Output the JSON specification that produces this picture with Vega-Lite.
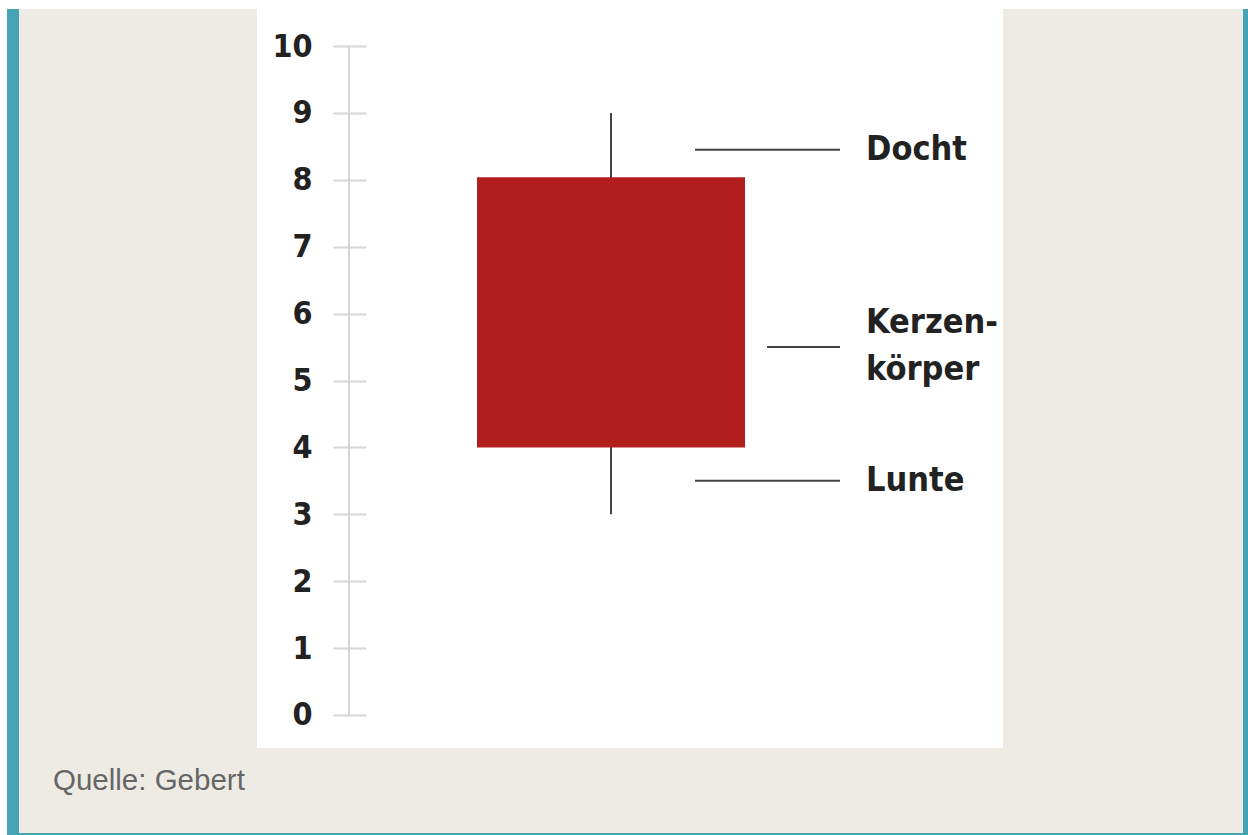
{
  "$schema": "https://vega.github.io/schema/vega-lite/v6.json",
  "width": 1248,
  "height": 835,
  "autosize": {"type": "none"},
  "padding": 0,
  "background": "#ffffff",
  "config": {"view": {"stroke": null}},
  "datasets": {
    "panels": [
      {"part": "border", "x": 7, "x2": 1248, "y": 10.553, "y2": -1.794},
      {"part": "frame", "x": 19, "x2": 1243, "y": 10.553, "y2": -1.764},
      {"part": "panel", "x": 257, "x2": 1003, "y": 10.688, "y2": -0.493}
    ],
    "axisline": [{"x": 349, "lo": 0, "hi": 10}],
    "candle": [{"x": 611, "left": 477, "right": 745, "open": 4, "close": 8.04, "low": 3, "high": 9}],
    "callouts": [
      {"label": "Docht", "lines": 1, "y": 8.45, "from": 695, "to": 840, "tx": 866},
      {"label": "Kerzen-\nkörper", "lines": 2, "y": 5.5, "from": 767, "to": 840, "tx": 866},
      {"label": "Lunte", "lines": 1, "y": 3.5, "from": 695, "to": 840, "tx": 866}
    ],
    "source": [{"label": "Quelle: Gebert", "x": 53, "y": -0.987}]
  },
  "layer": [
    {
      "data": {"name": "panels"},
      "mark": {"type": "rect"},
      "encoding": {
        "x": {"field": "x", "type": "quantitative", "scale": {"domain": [0, 1248], "nice": false, "zero": false}, "axis": null},
        "x2": {"field": "x2"},
        "y": {"field": "y", "type": "quantitative", "scale": {"domain": [-1.794, 10.688], "nice": false, "zero": false},
          "axis": {
            "values": [0, 1, 2, 3, 4, 5, 6, 7, 8, 9, 10],
            "format": "d",
            "offset": -366,
            "domain": false,
            "grid": false,
            "ticks": true,
            "tickSize": 33,
            "tickWidth": 2,
            "tickColor": "#d6d6d6",
            "labelFont": "DejaVu Sans Condensed, sans-serif",
            "labelFontWeight": "bold",
            "labelFontSize": 32,
            "labelColor": "#222222",
            "labelPadding": 21,
            "title": null,
            "zindex": 2
          }},
        "y2": {"field": "y2"},
        "color": {"field": "part", "type": "nominal", "scale": {"domain": ["border", "frame", "panel"], "range": ["#44a4b2", "#eeebe5", "#ffffff"]}, "legend": null}
      }
    },
    {
      "data": {"name": "axisline"},
      "mark": {"type": "rule", "color": "#d6d6d6", "strokeWidth": 2},
      "encoding": {
        "x": {"field": "x", "type": "quantitative"},
        "y": {"field": "lo", "type": "quantitative"},
        "y2": {"field": "hi"}
      }
    },
    {
      "data": {"name": "candle"},
      "mark": {"type": "rule", "color": "#444444", "strokeWidth": 2},
      "encoding": {
        "x": {"field": "x", "type": "quantitative"},
        "y": {"field": "low", "type": "quantitative"},
        "y2": {"field": "high"}
      }
    },
    {
      "data": {"name": "candle"},
      "mark": {"type": "rect", "color": "#b21d1e"},
      "encoding": {
        "x": {"field": "left", "type": "quantitative"},
        "x2": {"field": "right"},
        "y": {"field": "open", "type": "quantitative"},
        "y2": {"field": "close"}
      }
    },
    {
      "data": {"name": "callouts"},
      "mark": {"type": "rule", "color": "#444444", "strokeWidth": 2},
      "encoding": {
        "x": {"field": "from", "type": "quantitative"},
        "x2": {"field": "to"},
        "y": {"field": "y", "type": "quantitative"}
      }
    },
    {
      "data": {"name": "callouts"},
      "transform": [{"filter": "datum.lines == 1"}],
      "mark": {"type": "text", "align": "left", "baseline": "middle", "font": "DejaVu Sans Condensed, sans-serif", "fontWeight": "bold", "fontSize": 34, "color": "#222222"},
      "encoding": {
        "x": {"field": "tx", "type": "quantitative"},
        "y": {"field": "y", "type": "quantitative"},
        "text": {"field": "label", "type": "nominal"}
      }
    },
    {
      "data": {"name": "callouts"},
      "transform": [{"filter": "datum.lines == 2"}],
      "mark": {"type": "text", "align": "left", "baseline": "middle", "dy": -24, "lineBreak": "\n", "lineHeight": 47, "font": "DejaVu Sans Condensed, sans-serif", "fontWeight": "bold", "fontSize": 34, "color": "#222222"},
      "encoding": {
        "x": {"field": "tx", "type": "quantitative"},
        "y": {"field": "y", "type": "quantitative"},
        "text": {"field": "label", "type": "nominal"}
      }
    },
    {
      "data": {"name": "source"},
      "mark": {"type": "text", "align": "left", "baseline": "middle", "font": "Liberation Sans, Arial, sans-serif", "fontSize": 29.5, "color": "#666666"},
      "encoding": {
        "x": {"field": "x", "type": "quantitative"},
        "y": {"field": "y", "type": "quantitative"},
        "text": {"field": "label", "type": "nominal"}
      }
    }
  ]
}
